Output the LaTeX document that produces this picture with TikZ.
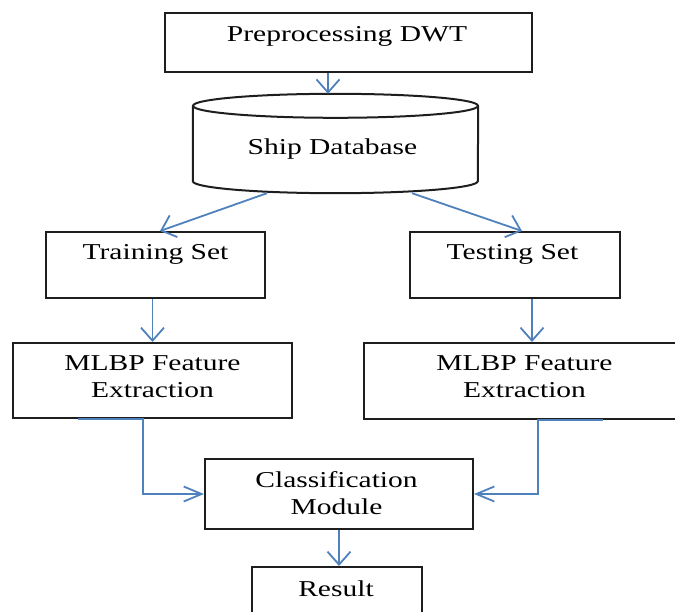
\documentclass[tikz,border=0pt]{standalone}
\usepackage{fontspec}
\setmainfont{Liberation Serif}[FakeStretch=1.3]
\usetikzlibrary{arrows.meta,positioning}
\definecolor{flowblue}{RGB}{79,129,189}
\definecolor{boxgray}{RGB}{30,30,30}
\tikzset{stage/.style={draw=boxgray, line width=2pt, inner sep=0pt},
  dbshape/.style={minimum width=285pt, minimum height=99pt, inner sep=0pt},
  caption/.style={anchor=base, align=center, inner sep=0pt, text=black, font=\fontsize{22.7}{26.5}\selectfont},
  flow/.style={draw=flowblue, line width=1.8pt, -{Straight Barb[length=13pt,width=23pt]}},
  flowh/.style={flow, -{Straight Barb[length=18pt,width=15pt]}}}

\begin{document}
\begin{tikzpicture}[x=1pt, y=-1pt]
    \useasboundingbox (0,0) rectangle (675,612);
    \node[stage, minimum width=367pt, minimum height=59pt] (pre) at (348.5,42.5) {};
    \node[dbshape] (db) at (335.5,143.5) {};
    \node[stage, minimum width=219pt, minimum height=66pt] (train) at (155.5,265) {};
    \node[stage, minimum width=210pt, minimum height=66pt] (test) at (515,265) {};
    \node[stage, minimum width=279pt, minimum height=75pt] (mlbpL) at (152.5,380.5) {};
    \node[stage, minimum width=321pt, minimum height=76pt] (mlbpR) at (524.5,381) {};
    \node[stage, minimum width=268pt, minimum height=70pt] (classif) at (339,494) {};
    \node[stage, minimum width=170pt, minimum height=66pt] (result) at (337,600) {};
    \draw[boxgray, line width=2pt] ([yshift=-12pt]db.north) ellipse [x radius=142.5pt, y radius=12pt];
    \draw[boxgray, line width=2pt] ([yshift=-12pt]db.north west) -- ([yshift=12pt]db.south west)
      arc [start angle=180, end angle=360, x radius=142.5pt, y radius=12pt] -- ([yshift=-12pt]db.north east);
    \node[caption] (prelbl) at (347,42) {Preprocessing DWT};
    \node[caption] (dblbl) at (332.5,155) {Ship Database};
    \node[caption] (trainlbl) at (155.5,260) {Training Set};
    \node[caption] (testlbl) at (512.5,260) {Testing Set};
    \node[caption] (mlbpLlbl) at (152.5,397) {MLBP Feature\\Extraction};
    \node[caption] (mlbpRlbl) at (524.5,397) {MLBP Feature\\Extraction};
    \node[caption] (classiflbl) at (336.5,514) {Classification\\Module};
    \node[caption] (resultlbl) at (336,596) {Result};
    \draw[flow] ([xshift=-20.5pt]pre.south) -- ([xshift=-20.5pt]pre.south |- db.north);
    \draw[flow] ([xshift=-68.5pt]db.south) -- ([xshift=4.5pt]train.north);
    \draw[flow] ([xshift=76.5pt]db.south) -- ([xshift=7pt]test.north);
    \draw[flow] (train.south -| mlbpL.north) -- (mlbpL.north);
    \draw[flow] ([xshift=17pt]test.south) -- ([xshift=17pt]test.south |- mlbpR.north);
    \draw[flowh] ([xshift=-74.5pt]mlbpL.south) -- ([xshift=-9.5pt]mlbpL.south) |- (classif.west);
    \draw[flowh] ([xshift=78.5pt]mlbpR.south) -- ([xshift=13.5pt]mlbpR.south) |- (classif.east);
    \draw[flow] (classif.south) -- (classif.south |- result.north);
\end{tikzpicture}
\end{document}
